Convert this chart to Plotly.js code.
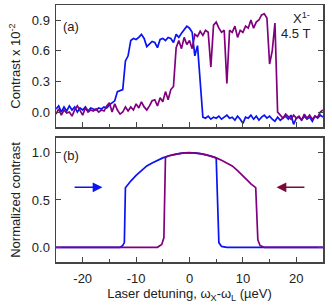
<!DOCTYPE html>
<html>
<head>
<meta charset="utf-8">
<script src="https://cdn.plot.ly/plotly-3.0.1.min.js"></script>
<style>html,body{margin:0;padding:0;background:#fff;}#chart{width:332px;height:306px;}</style>
</head>
<body>
<div id="chart"></div>
<script>
// Panel (a): measured contrast (x 10^-2) vs laser detuning (µeV)
const aBlueX = [-25,-24.5,-24,-23.5,-23,-22.5,-22,-21.5,-21,-20.5,-20,-19.5,-19,-18.5,-18,-17.5,-17,-16.5,-16,-15.5,-15,-14.5,-14,-13.5,-13,-12.5,-12,-11.5,-11,-10.5,-10,-9.5,-9,-8.5,-8,-7.5,-7,-6.5,-6,-5.5,-5,-4.5,-4,-3.5,-3,-2.5,-2,-1.5,-1,-0.5,0,0.5,1,1.5,2,2.5,3,3.5,4,4.5,5,5.5,6,6.5,7,7.5,8,8.5,9,9.5,10,10.5,11,11.5,12,12.5,13,13.5,14,14.5,15,15.5,16,16.5,17,17.5,18,18.5,19,19.5,20,20.5,21,21.5,22,22.5,23,23.5,24,24.5,25];
const aBlueY = [0.03,0.06,0.0,0.05,0.01,0.06,0.02,0.05,0.0,0.04,0.02,0.05,0.01,0.04,0.03,0.02,0.04,0.03,0.05,0.04,0.07,0.09,0.11,0.2,0.21,0.22,0.5,0.55,0.7,0.72,0.71,0.73,0.76,0.72,0.64,0.67,0.69,0.68,0.63,0.71,0.72,0.70,0.73,0.72,0.68,0.76,0.73,0.77,0.8,0.84,0.82,0.78,0.55,0.65,0.3,-0.05,-0.06,-0.04,-0.07,-0.05,-0.06,-0.04,-0.07,-0.05,-0.03,-0.06,-0.05,-0.08,-0.04,-0.07,-0.11,-0.05,-0.06,-0.03,-0.07,-0.04,-0.08,-0.05,-0.03,-0.06,-0.04,-0.07,-0.09,-0.05,-0.08,-0.06,-0.04,-0.07,-0.03,-0.12,-0.06,-0.05,-0.08,-0.04,-0.07,-0.05,-0.09,-0.04,-0.06,-0.03,-0.05];
const aPurpleX = aBlueX.slice();
const aPurpleY = [-0.02,0.03,-0.03,0.02,-0.01,0.0,-0.04,0.02,0.06,0.01,-0.03,0.04,0.0,0.02,0.01,0.03,0.0,0.02,0.01,0.06,0.09,0.0,0.08,0.02,-0.02,0.0,0.05,0.01,0.05,0.02,0.08,0.04,0.1,0.05,0.02,0.06,0.11,0.12,0.06,0.14,0.1,0.2,0.12,0.22,0.25,0.63,0.7,0.62,0.73,0.66,0.7,0.62,0.76,0.74,0.79,0.75,0.8,0.78,0.44,0.85,0.88,0.82,0.78,0.8,0.28,0.8,0.78,0.84,0.73,0.8,0.78,0.84,0.82,0.9,0.82,0.88,0.9,0.95,0.96,0.92,0.47,0.6,0.87,0.0,-0.03,-0.06,-0.02,-0.05,-0.07,-0.03,-0.06,-0.04,-0.08,-0.02,-0.06,-0.03,-0.07,-0.04,-0.05,0.0,0.02];

// Panel (b): normalized contrast (model)
const bBlueX = [-25,-13,-12.5,-12.2,-12,-11.5,-11,-10,-9,-8,-7,-6,-5,-4,-3,-2,-1,0,1,2,3,4,5,5.5,6,7,25];
const bBlueY = [0,0,0.02,0.05,0.63,0.67,0.70,0.76,0.81,0.86,0.89,0.92,0.945,0.965,0.98,0.99,0.998,1.0,0.998,0.99,0.98,0.965,0.945,0.05,0.01,0,0];
const bPurpleX = [-25,-6,-5.2,-4.8,-4.5,-4,-3,-2,-1,0,1,2,3,4,5,6,7,8,9,10,11,11.5,12,12.4,12.8,13.2,14,25];
const bPurpleY = [0,0,0.03,0.1,0.95,0.965,0.98,0.99,0.998,1.0,0.998,0.99,0.98,0.965,0.945,0.92,0.89,0.86,0.81,0.76,0.70,0.67,0.65,0.63,0.08,0.02,0,0];

const xTickVals = [-20,-10,0,10,20];
const xTickText = ['-20','-10','0','10','20'];
const aTickVals = [0,0.3,0.6,0.9];
const bTickVals = [0,0.5,1];

const BLUE = '#0a14f0', PURPLE = '#800080', DARKRED = '#7a0a3a';
const FONT = 'Liberation Sans, Arial, sans-serif';
const lineW = 1.7;

const traces = [
  {x:aBlueX, y:aBlueY, xaxis:'x2', yaxis:'y2', mode:'lines', line:{color:BLUE,width:lineW}},
  {x:aPurpleX, y:aPurpleY, xaxis:'x2', yaxis:'y2', mode:'lines', line:{color:PURPLE,width:lineW}},
  {x:bBlueX, y:bBlueY, xaxis:'x', yaxis:'y', mode:'lines', line:{color:BLUE,width:lineW}},
  {x:bPurpleX, y:bPurpleY, xaxis:'x', yaxis:'y', mode:'lines', line:{color:PURPLE,width:lineW}}
];

const axCommon = {showline:true, linecolor:'#444', linewidth:1.5, ticks:'inside', ticklen:5, tickwidth:1, tickcolor:'#444', showgrid:false, zeroline:false, tickfont:{family:FONT,size:13,color:'#222'}};

const layout = {
  width:332, height:306,
  margin:{l:56, r:9, t:5, b:44},
  paper_bgcolor:'#fff', plot_bgcolor:'#fff',
  showlegend:false,
  font:{family:FONT, color:'#222'},
  xaxis: Object.assign({}, axCommon, {domain:[0,1], anchor:'y', range:[-25,25], tickvals:xTickVals, ticktext:xTickText, mirror:true, ticklabelstandoff:4,
    minor:{dtick:5, ticks:'inside', ticklen:3, tickcolor:'#444'},
    title:{text:'Laser detuning, ω<sub>X</sub>-ω<sub>L</sub> (µeV)', font:{family:FONT,size:13,color:'#222'}, standoff:0}}),
  yaxis: Object.assign({}, axCommon, {domain:[0,0.4825], anchor:'x', range:[-0.155,1.155], tickvals:bTickVals, ticktext:['0.0','0.5','1.0'], mirror:'ticks', ticklabelstandoff:2,
    title:{text:'Normalized contrast', font:{family:FONT,size:13,color:'#222'}, standoff:8}}),
  xaxis2: Object.assign({}, axCommon, {domain:[0,1], anchor:'y2', range:[-25,25], tickvals:xTickVals, showticklabels:false, mirror:true,
    minor:{dtick:5, ticks:'inside', ticklen:3, tickcolor:'#444'}}),
  yaxis2: Object.assign({}, axCommon, {domain:[0.525,1], anchor:'x2', range:[-0.147,1.047], tickvals:aTickVals, ticktext:['0.0','0.3','0.6','0.9'], mirror:'ticks', ticklabelstandoff:2,
    title:{text:'Contrast x 10<sup>-2</sup>', font:{family:FONT,size:13,color:'#222'}, standoff:8}}),
  annotations:[
    {xref:'x2', yref:'y2', x:-22.2, y:0.84, text:'(a)', showarrow:false, font:{family:FONT,size:13,color:'#222'}},
    {xref:'x', yref:'y', x:-22.2, y:0.97, text:'(b)', showarrow:false, font:{family:FONT,size:13,color:'#222'}},
    {xref:'x2', yref:'y2', x:23.0, y:0.92, text:'X<sup>1-</sup>', showarrow:false, xanchor:'right', font:{family:FONT,size:13,color:'#222'}},
    {xref:'x2', yref:'y2', x:23.0, y:0.77, text:'4.5 T', showarrow:false, xanchor:'right', font:{family:FONT,size:13,color:'#222'}},
    {xref:'x', yref:'y', axref:'x', ayref:'y', x:-16.3, y:0.634, ax:-21.8, ay:0.634, text:'', showarrow:true, arrowhead:2, arrowsize:1.3, arrowwidth:1.5, arrowcolor:BLUE},
    {xref:'x', yref:'y', axref:'x', ayref:'y', x:16.3, y:0.634, ax:21.8, ay:0.634, text:'', showarrow:true, arrowhead:2, arrowsize:1.3, arrowwidth:1.5, arrowcolor:DARKRED}
  ]
};

Plotly.newPlot('chart', traces, layout, {staticPlot:true, displayModeBar:false});
</script>
</body>
</html>
